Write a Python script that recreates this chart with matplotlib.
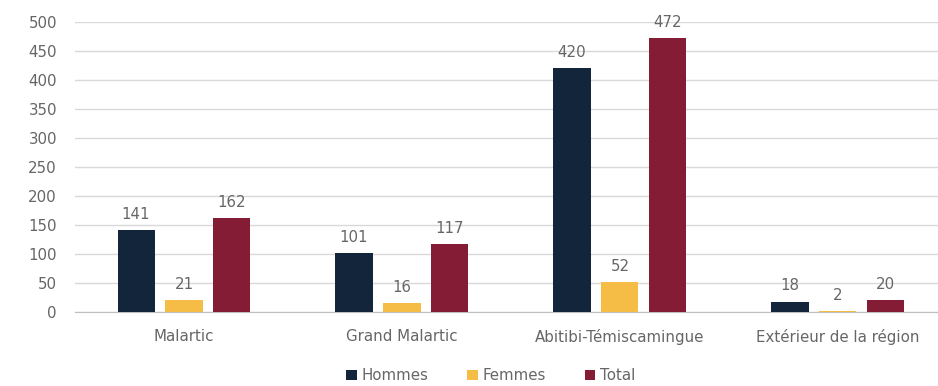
import numpy as np
import matplotlib
matplotlib.use("Agg")
import matplotlib.pyplot as plt

# Origine des travailleurs par sexe
categories = ["Malartic", "Grand Malartic", "Abitibi-Témiscamingue", "Extérieur de la région"]
hommes = [141, 101, 420, 18]
femmes = [21, 16, 52, 2]
total = [162, 117, 472, 20]
series = [("Hommes", hommes, "#13253a"), ("Femmes", femmes, "#f5bd45"), ("Total", total, "#851c35")]

plt.rcParams["font.family"] = ["DejaVu Sans"]
texte = "#666666"
taille = 10.8

fig = plt.figure(figsize=(9.38, 3.86), dpi=100)
ax = fig.add_axes([75 / 938, 74 / 386, 863 / 938, 290 / 386])

x = np.arange(len(categories))
largeur = 0.17
ecart = 0.22
for i, (nom, valeurs, couleur) in enumerate(series):
    pos = x + (i - 1) * ecart
    barres = ax.bar(pos, valeurs, largeur, color=couleur, label=nom, zorder=3)
    for b, v in zip(barres, valeurs):
        ax.text(b.get_x() + b.get_width() / 2, v + 14, str(v), ha="center", va="bottom",
                fontsize=taille, color=texte)

ax.set_xlim(-0.5, 3.459)
ax.set_ylim(0, 500)
ax.set_yticks(np.arange(0, 501, 50))
ax.set_xticks(x)
ax.set_xticklabels(categories)
ax.tick_params(axis="both", length=0, labelsize=taille, colors=texte)
ax.tick_params(axis="y", pad=13)
ax.tick_params(axis="x", pad=12)
ax.grid(axis="y", color="#d9d9d9", linewidth=1, zorder=0)
for s in ["top", "right", "left"]:
    ax.spines[s].set_visible(False)
ax.spines["bottom"].set_color("#bfbfbf")

fig.legend(*ax.get_legend_handles_labels(), loc="center", bbox_to_anchor=(0.523, 0.026),
           ncol=3, frameon=False, fontsize=taille, handlelength=0.7, handleheight=0.7,
           handletextpad=0.3, columnspacing=2.6, labelcolor=texte)

fig.savefig("out.png", dpi=100)
